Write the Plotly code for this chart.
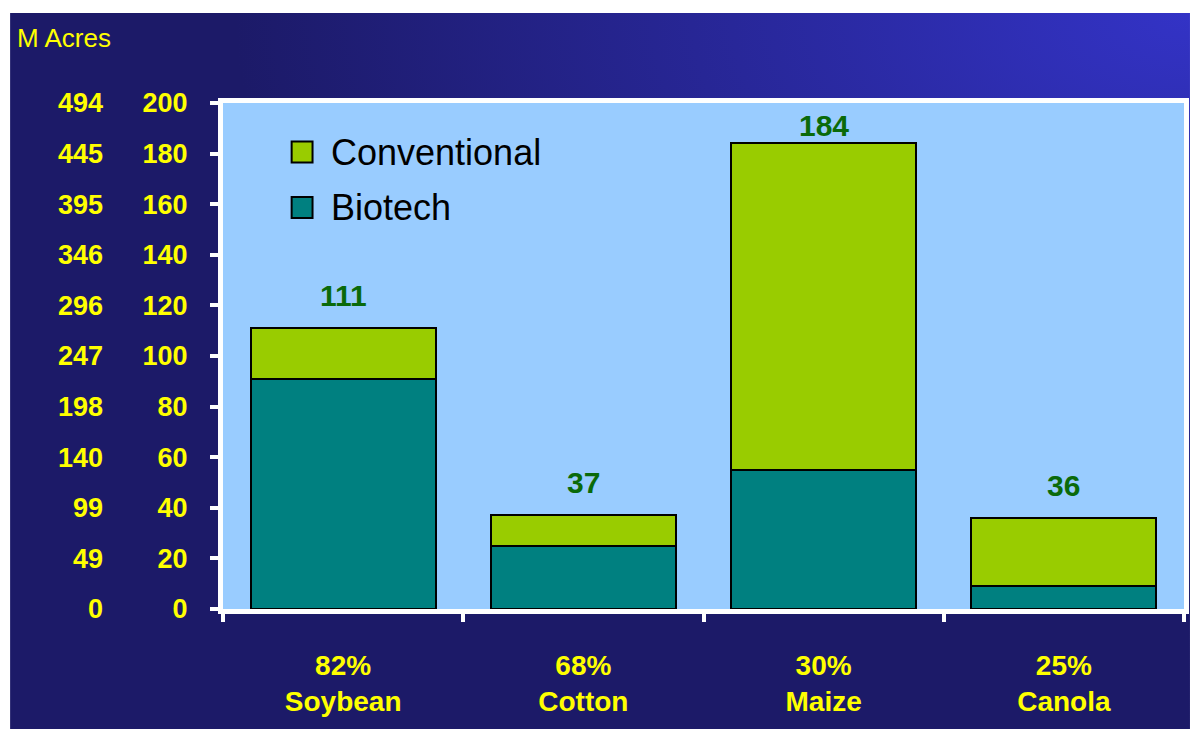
import base64
import plotly.graph_objects as go

# --- data -------------------------------------------------------------
crops = ["Soybean", "Cotton", "Maize", "Canola"]
biotech_share = ["82%", "68%", "30%", "25%"]
biotech = [91, 25, 55, 9]            # M acres planted with biotech varieties
conventional = [20, 12, 129, 27]     # M acres planted conventionally
totals = [111, 37, 184, 36]          # total M acres per crop

acre_ticks = [0, 20, 40, 60, 80, 100, 120, 140, 160, 180, 200]
hectare_labels = ["0", "49", "99", "140", "198", "247", "296", "346", "395", "445", "494"]

# --- geometry helpers ------------------------------------------------
W, H = 1195, 729
ML, MR, MT, MB = 223, 6, 103, 120
PW, PH = W - ML - MR, H - MT - MB


def fx(px):
    """page x pixel -> paper fraction"""
    return (px - ML) / PW


def fy(py):
    """page y pixel -> paper fraction"""
    return (H - MB - py) / PH


FONT = "Liberation Sans, Arial, sans-serif"
YELLOW = "#FFFF00"
CONV_COLOR = "#99CC00"
BIO_COLOR = "#008080"
PLOT_BG = "#99CCFF"

# slide-style background: dark navy brightening toward the upper right
bg_w, bg_h = W - 9, H - 13
svg = f"""<svg xmlns='http://www.w3.org/2000/svg' width='{bg_w}' height='{bg_h}' viewBox='0 0 {bg_w} {bg_h}' preserveAspectRatio='none'>
<defs><radialGradient id='g' gradientUnits='userSpaceOnUse' cx='{bg_w}' cy='0' r='960'
 gradientTransform='translate({bg_w} 0) scale(1 0.6) translate(-{bg_w} 0)'>
<stop offset='0' stop-color='#3333C6'/><stop offset='1' stop-color='#1C1A68'/></radialGradient></defs>
<rect width='{bg_w}' height='{bg_h}' fill='url(#g)'/></svg>"""
bg_uri = "data:image/svg+xml;base64," + base64.b64encode(svg.encode()).decode()

x_labels = [f"{p}<br>{c}" for p, c in zip(biotech_share, crops)]

fig = go.Figure()
fig.add_trace(go.Bar(
    x=x_labels, y=biotech, name="Biotech",
    marker=dict(color=BIO_COLOR, line=dict(color="black", width=2)),
    showlegend=False, hoverinfo="skip",
))
fig.add_trace(go.Bar(
    x=x_labels, y=conventional, name="Conventional",
    marker=dict(color=CONV_COLOR, line=dict(color="black", width=2)),
    showlegend=False, hoverinfo="skip",
))
# totals on the hectare-scaled axis (invisible; carries the second scale)
fig.add_trace(go.Scatter(
    x=x_labels, y=totals, yaxis="y2", mode="markers",
    marker=dict(opacity=0), showlegend=False, hoverinfo="skip",
))

annotations = []
# totals above each stack (kept inside the frame near the top)
for lab, tot in zip(x_labels, totals):
    annotations.append(dict(
        x=lab, y=min(tot + 13, 191), xref="x", yref="y",
        text=f"<b>{tot}</b>", showarrow=False, yanchor="middle",
        font=dict(family=FONT, size=30, color="#0A6A0A"),
    ))

annotations.append(dict(
    x=fx(14), y=fy(38), xref="paper", yref="paper", text="M Acres",
    showarrow=False, xanchor="left", yanchor="middle",
    font=dict(family=FONT, size=26, color=YELLOW),
))

shapes = [
    # light-blue plotting area
    dict(type="rect", xref="paper", yref="paper", x0=0, x1=1, y0=0, y1=1,
         fillcolor=PLOT_BG, line=dict(width=0), layer="below"),
]
legend_items = [("Conventional", CONV_COLOR, 152), ("Biotech", BIO_COLOR, 207.5)]
for name, color, cy in legend_items:
    shapes.append(dict(
        type="rect", xref="paper", yref="paper",
        x0=fx(292), x1=fx(313), y0=fy(cy - 10.5), y1=fy(cy + 10.5),
        fillcolor=color, line=dict(color="black", width=2),
    ))
    annotations.append(dict(
        x=fx(330), y=fy(cy), xref="paper", yref="paper", text=name,
        showarrow=False, xanchor="left", yanchor="middle",
        font=dict(family=FONT, size=36, color="black"),
    ))

fig.update_layout(
    width=W, height=H,
    margin=dict(l=ML, r=MR, t=MT, b=MB, pad=0),
    paper_bgcolor="white",
    plot_bgcolor=PLOT_BG,
    barmode="stack",
    bargap=0.23,
    showlegend=False,
    images=[dict(
        source=bg_uri, xref="paper", yref="paper",
        x=fx(9), y=fy(13), sizex=bg_w / PW, sizey=bg_h / PH,
        xanchor="left", yanchor="top", sizing="stretch", layer="below",
    )],
    xaxis=dict(
        showline=True, linecolor="white", linewidth=5, mirror=True,
        ticks="outside", tickson="boundaries", ticklen=8, tickwidth=4,
        tickcolor="white", showgrid=False, zeroline=False,
        tickfont=dict(family=FONT, size=28, color=YELLOW, weight="bold"),
        ticklabelstandoff=27,
    ),
    yaxis=dict(
        range=[0, 200], tickvals=acre_ticks,
        showline=True, linecolor="white", linewidth=5, mirror=True,
        ticks="outside", ticklen=8, tickwidth=4, tickcolor="white",
        showgrid=False, zeroline=False,
        tickfont=dict(family=FONT, size=27, color=YELLOW, weight="bold"),
        ticklabelstandoff=17,
    ),
    yaxis2=dict(
        overlaying="y", anchor="free", position=0, side="left",
        range=[0, 200], tickvals=acre_ticks, ticktext=hectare_labels,
        showline=False, ticks="", showgrid=False, zeroline=False,
        tickfont=dict(family=FONT, size=27, color=YELLOW, weight="bold"),
        ticklabelstandoff=120,
    ),
    annotations=annotations,
    shapes=shapes,
)

fig.write_html("out.html")
